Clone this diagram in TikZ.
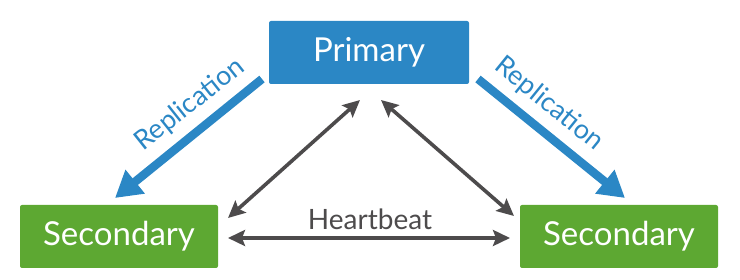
\documentclass[tikz,border=0pt]{standalone}
\usepackage{fontspec}
\setmainfont{Lato}
\usetikzlibrary{arrows.meta}
\definecolor{pblue}{HTML}{2B87C5}
\definecolor{sgreen}{HTML}{5DA832}
\definecolor{dgray}{HTML}{4D4B4C}
\tikzset{
  box/.style={rounded corners=2pt, minimum height=63pt, text=white, font=\fontsize{33}{33}\selectfont, inner sep=0pt},
  hb/.style={draw=dgray, line width=3.6pt, {Stealth[length=17pt,width=16pt,inset=3pt]}-{Stealth[length=17pt,width=16pt,inset=3pt]}},
  repl/.style={draw=pblue, line width=8.5pt, -{Triangle[length=26pt,width=29pt]}},
  rlabel/.style={text=pblue, font=\fontsize{27}{27}\selectfont, inner sep=0pt}
}
\begin{document}
\begin{tikzpicture}[x=1pt,y=1pt]
\useasboundingbox (0,0) rectangle (740,280);
\node[box, fill=pblue, minimum width=200pt] (p) at (369,227.5) {Primary};
\node[box, fill=sgreen, minimum width=198pt] (sl) at (119,43.5) {Secondary};
\node[box, fill=sgreen, minimum width=198pt] (sr) at (619,43.5) {Secondary};
% dark heartbeat arrows
\coordinate (lt) at (360,180);
\coordinate (lb) at (228,62);
\coordinate (rt) at (381,180);
\coordinate (rb) at (514,64);
\coordinate (hl) at (228,42);
\coordinate (hr) at (510,42);
\draw[hb] (lt) -- (lb);
\draw[hb] (rt) -- (rb);
\draw[hb] (hl) -- (hr);
\node[text=dgray, font=\fontsize{28}{28}\selectfont, anchor=base] (hbt) at (370,50) {Heartbeat};
% replication arrows
\coordinate (ra1) at (262,201);
\coordinate (ra2) at (115,82);
\coordinate (rb1) at (478,201);
\coordinate (rb2) at (625,82);
\draw[repl] (ra1) -- (ra2);
\draw[repl] (rb1) -- (rb2);
\node[rlabel, rotate=38.5] (l1) at (190,175) {Replication};
\node[rlabel, rotate=-39] (l2) at (549,176) {Replication};
\end{tikzpicture}
\end{document}
